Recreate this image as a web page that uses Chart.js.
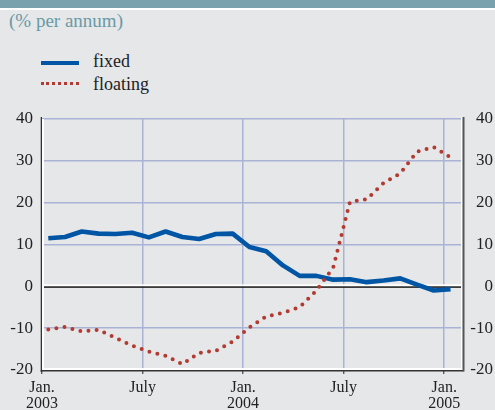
<!DOCTYPE html>
<html>
<head>
<meta charset="utf-8">
<script src="https://cdn.jsdelivr.net/npm/chart.js@4.4.0/dist/chart.umd.min.js"></script>
<style>
  html, body { margin: 0; padding: 0; }
  body { width: 495px; height: 410px; background: #e5e7e9; position: relative; overflow: hidden; font-family: 'Liberation Serif', 'Times New Roman', serif; }
  #topbar { position: absolute; left: 0; top: 0; width: 495px; height: 8px; background: #79a0ad; }
  #topline { position: absolute; left: 0; top: 8px; width: 495px; height: 2px; background: #ffffff; }
  #unit { position: absolute; left: 9px; top: 10px; font-size: 19px; color: #6a9aa6; }
  .leg { position: absolute; font-size: 18px; color: #222; }
  #legFixed { position: absolute; left: 41px; top: 61px; width: 38px; height: 3.5px; background: #0055a4; }
  #legFloat { position: absolute; left: 41px; top: 82px; width: 38px; height: 0; border-top: 3.5px dotted #b23a30; }
  #chartBox { position: absolute; left: 0; top: 0; width: 495px; height: 410px; }
</style>
</head>
<body>
<div id="topbar"></div>
<div id="topline"></div>
<div id="unit">(% per annum)</div>
<div id="legFixed"></div>
<div class="leg" style="left:93px; top:51px;">fixed</div>
<div id="legFloat"></div>
<div class="leg" style="left:93px; top:74px;">floating</div>
<div id="chartBox"><canvas id="rateChart" width="495" height="410"></canvas></div>

<script>
// Months Jan 2003 .. Jan 2005 (index 0 = Jan 2003)
const months = ['2003-01','2003-02','2003-03','2003-04','2003-05','2003-06','2003-07','2003-08','2003-09','2003-10','2003-11','2003-12',
                '2004-01','2004-02','2004-03','2004-04','2004-05','2004-06','2004-07','2004-08','2004-09','2004-10','2004-11','2004-12',
                '2005-01'];

const fixedRate = [11.5, 11.8, 13.1, 12.6, 12.5, 12.8, 11.7, 13.1, 11.8, 11.3, 12.5, 12.6,
                   9.4, 8.4, 5.0, 2.5, 2.5, 1.6, 1.7, 1.0, 1.4, 1.9, 0.4, -1.0, -0.7];
const floatingRate = [-10.3, -9.7, -10.8, -10.4, -12.3, -14.2, -15.6, -16.6, -18.6, -15.9, -15.4, -13.2,
                      -9.8, -7.2, -6.3, -5.0, -1.0, 4.5, 20.2, 20.8, 24.7, 27.0, 32.2, 33.3, 30.8];

// x-axis ticks (months since Jan 2003) and their labels
const tickMonths = [0, 6, 12, 18, 24];
const tickLabels = [['Jan.', '2003'], 'July', ['Jan.', '2004'], 'July', ['Jan.', '2005']];
const yTicks = [-20, -10, 0, 10, 20, 30, 40];

// observations are dated around mid-month
const dayOffset = 12 / 32;
function toPoints(vals) {
  return vals.map((v, i) => ({ x: months.indexOf(months[i]) + dayOffset, y: v }));
}

const gridColor = '#a9b3d6';
const serif = 'Liberation Serif';

// draws the white/dark frame and the zero line
const framePlugin = {
  id: 'frame',
  beforeDatasetsDraw(chart) {
    const { ctx, chartArea: a } = chart;
    const y0 = chart.scales.y.getPixelForValue(0);
    ctx.save();
    // zero line
    ctx.fillStyle = '#ffffff';
    ctx.fillRect(a.left, y0 - 2, a.right - a.left, 2);
    ctx.fillStyle = '#1a1a1a';
    ctx.fillRect(a.left, y0, a.right - a.left, 1.5);
    // left
    ctx.fillStyle = '#ffffff';
    ctx.fillRect(a.left, a.top, 2, a.bottom - a.top);
    ctx.fillStyle = '#333';
    ctx.fillRect(a.left - 1.3, a.top - 2, 1.3, a.bottom - a.top + 4);
    // bottom
    ctx.fillStyle = '#ffffff';
    ctx.fillRect(a.left, a.bottom - 2, a.right - a.left + 2, 2);
    ctx.fillStyle = '#333';
    ctx.fillRect(a.left - 1.3, a.bottom, a.right - a.left + 4, 1.5);
    // right
    ctx.fillStyle = '#ffffff';
    ctx.fillRect(a.right, a.top - 2, 1.5, a.bottom - a.top + 2);
    ctx.fillStyle = '#555';
    ctx.fillRect(a.right + 1.5, a.top - 2, 2, a.bottom - a.top + 3.5);
    ctx.restore();
  }
};

const ctx = document.getElementById('rateChart').getContext('2d');
const rateChart = new Chart(ctx, {
  type: 'line',
  data: {
    datasets: [
      {
        label: 'floating',
        data: toPoints(floatingRate),
        borderColor: '#b23a30',
        borderWidth: 4,
        borderDash: [0, 8.2],
        borderCapStyle: 'round',
        pointRadius: 0,
        tension: 0,
        fill: false
      },
      {
        label: 'fixed',
        data: toPoints(fixedRate),
        borderColor: '#0055a4',
        borderWidth: 4.6,
        borderJoinStyle: 'round',
        pointRadius: 0,
        tension: 0,
        fill: false
      }
    ]
  },
  options: {
    responsive: false,
    animation: false,
    layout: { padding: { top: 119, left: 0, right: 2, bottom: 0 } },
    plugins: { legend: { display: false }, tooltip: { enabled: false } },
    scales: {
      x: {
        type: 'linear',
        min: 0,
        max: 25,
        afterBuildTicks: s => { s.ticks = tickMonths.map(v => ({ value: v })); },
        afterFit: s => { s.height = 40; },
        border: { display: false },
        grid: {
          color: c => (c.tick && c.tick.value === 0) ? 'rgba(0,0,0,0)' : gridColor,
          lineWidth: 1.5,
          drawTicks: true,
          tickLength: 4,
          tickColor: '#444',
          tickWidth: 1.2
        },
        ticks: {
          autoSkip: false,
          maxRotation: 0,
          padding: 6,
          color: '#222',
          font: { family: serif, size: 16, lineHeight: 1.0 },
          callback: v => tickLabels[tickMonths.indexOf(v)]
        }
      },
      y: {
        position: 'left',
        min: -20,
        max: 40,
        afterBuildTicks: s => { s.ticks = yTicks.map(v => ({ value: v })); },
        afterFit: s => { s.width = 42; },
        border: { display: false },
        grid: {
          color: c => (c.tick && (c.tick.value === 0 || c.tick.value === -20)) ? 'rgba(0,0,0,0)' : gridColor,
          lineWidth: 1.5,
          drawTicks: false
        },
        ticks: { padding: 9, color: '#222', font: { family: serif, size: 17 } }
      },
      y2: {
        position: 'right',
        min: -20,
        max: 40,
        afterBuildTicks: s => { s.ticks = yTicks.map(v => ({ value: v })); },
        afterFit: s => { s.width = 32; },
        border: { display: false },
        grid: { display: false, drawTicks: false },
        ticks: { padding: 8, crossAlign: 'far', color: '#222', font: { family: serif, size: 17 } }
      }
    }
  },
  plugins: [framePlugin]
});
</script>
</body>
</html>
